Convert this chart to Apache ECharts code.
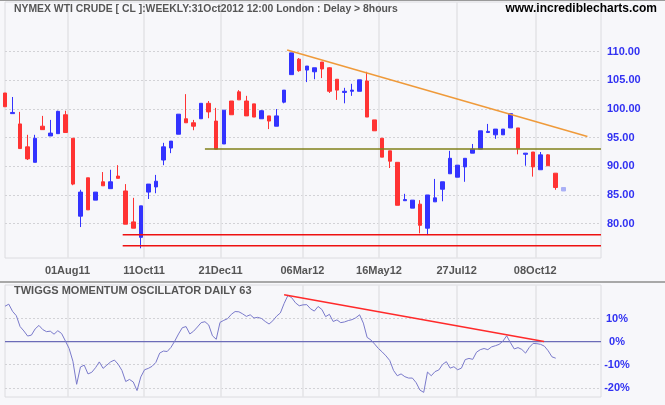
<!DOCTYPE html>
<html><head><meta charset="utf-8">
<script src="https://cdn.jsdelivr.net/npm/echarts@6/dist/echarts.min.js"></script>
<style>html,body{margin:0;padding:0;background:#f7f7fa;} #c{width:665px;height:405px;}</style>
</head><body><div id="c"></div>
<script>
// ---- weekly candles (NYMEX WTI crude, weekly bars) ----
const firstWeek = '2011-06-04';   // date of the first weekly bar
const weekOpen = [102.8,99.2,97.4,93.4,90.7,97.0,95.3,95.7,99.0,94.9,
 81.3,88.0,84.1,87.3,86.1,88.3,85.7,80.3,77.6,85.5,
 86.4,91.1,93.2,95.6,98.3,97.6,98.3,101.0,97.9,93.9,
 101.4,103.0,101.4,100.9,98.3,98.8,97.0,101.2,106.0,108.7,
 106.8,106.5,108.2,107.2,105.2,102.9,103.1,103.1,104.9,98.1,
 94.9,92.7,90.7,84.0,82.7,83.4,79.2,83.8,86.0,88.7,
 88.1,89.9,92.3,93.0,95.9,95.5,95.5,96.7,96.7,92.1,
 92.5,89.4,92.0,88.8,85.7];
const weekClose = [100.4,99.4,93.1,91.3,94.9,96.4,95.8,99.6,95.9,86.9,
 85.5,82.4,85.5,86.6,87.3,87.9,79.9,79.2,83.1,86.9,
 87.4,93.4,94.4,99.1,97.6,97.0,101.0,99.5,93.0,99.8,
 99.0,101.6,98.8,98.6,99.7,97.9,98.8,103.3,109.8,106.7,
 107.5,107.2,107.0,103.1,103.3,103.1,103.3,105.1,98.6,96.2,
 91.6,90.9,83.2,84.2,84.1,79.7,85.0,84.5,87.3,91.4,
 90.2,91.4,93.0,96.2,96.1,96.5,96.5,99.2,93.1,92.3,
 89.9,92.0,90.1,86.3,86.3];
const weekLow = [100.4,99.2,93.1,91.1,90.7,96.4,95.3,95.7,95.9,86.7,
 79.4,82.4,84.1,86.6,86.1,87.9,79.9,79.2,75.7,84.3,
 85.3,90.2,92.3,95.6,97.6,96.3,98.3,98.4,93.0,93.9,
 99.0,101.6,98.8,98.6,98.3,96.5,97.0,101.0,106.0,106.5,
 104.7,105.2,105.4,102.8,101.6,101.0,102.3,103.1,98.6,96.2,
 91.6,89.7,83.2,84.0,82.7,78.3,78.0,83.8,83.9,88.7,
 88.1,87.3,92.3,93.0,95.9,94.8,95.5,96.7,92.1,90.1,
 88.2,89.4,90.1,85.9,85.7];
const weekHigh = [102.8,102.1,99.5,95.5,95.5,98.8,98.1,99.7,99.7,94.9,
 85.9,88.0,85.5,89.0,89.4,90.2,86.9,84.5,83.1,86.9,
 88.5,94.1,94.4,99.1,102.6,98.1,101.0,101.4,100.2,99.8,
 101.4,103.3,102.3,100.9,99.8,98.8,100.0,103.3,109.8,108.9,
 107.5,107.2,108.2,107.3,105.2,103.7,104.4,105.1,106.5,98.1,
 94.9,92.7,90.7,85.2,84.1,84.1,85.0,87.8,87.3,92.7,
 90.2,91.4,93.9,96.2,97.4,96.5,96.5,99.2,96.7,92.3,
 92.5,92.5,92.1,88.8,86.3];

// ---- axis ticks ----
const xTickDates = ['2011-08-01','2011-10-11','2011-12-21','2012-03-06','2012-05-16','2012-07-27','2012-10-08'];
const xTickLabels = ['01Aug11','11Oct11','21Dec11','06Mar12','16May12','27Jul12','08Oct12'];
const priceTicks = [80,85,90,95,100,105,110];
const oscTicks = [-20,-10,0,10];

// ---- Twiggs momentum oscillator, sampled every half week from the first bar (%) ----
const oscStepWeeks = 0.5;
const oscValues = [15.3,16.2,13.1,11.2,6.5,4.6,2.4,2.8,5.5,7.0,
 5.2,4.3,4.5,3.2,4.7,3.5,0.3,-3.0,-8.5,-18.5,
 -11.0,-10.2,-14.0,-13.3,-11.3,-8.8,-11.6,-10.2,-8.8,-8.0,
 -9.8,-12.5,-17.3,-16.4,-17.5,-21.2,-15.3,-12.2,-11.6,-10.7,
 -9.0,-5.0,-4.1,-4.3,-2.5,0.2,3.3,6.0,6.5,3.3,
 4.5,6.3,8.2,8.6,7.2,2.5,1.0,8.3,9.2,9.9,
 11.8,13.0,12.9,12.0,10.9,11.6,10.2,10.5,10.0,8.7,
 7.6,9.0,11.0,12.4,16.5,20.0,19.0,16.8,15.5,15.9,
 16.0,14.2,13.2,15.2,13.9,10.8,11.8,8.7,9.4,8.2,
 8.5,9.1,9.5,10.3,11.6,8.0,1.8,0.7,-1.1,-3.0,
 -4.5,-6.2,-8.2,-12.5,-14.8,-14.0,-15.2,-15.8,-15.8,-17.8,
 -21.0,-22.0,-13.2,-14.8,-13.0,-12.3,-9.9,-8.7,-11.5,-10.9,
 -12.2,-11.5,-7.8,-7.3,-7.7,-4.6,-3.5,-3.0,-3.5,-2.3,
 -1.8,-1.2,0.2,2.5,-0.5,-3.2,-2.6,-3.4,-5.0,-2.5,
 -0.8,-0.9,-1.2,-2.0,-4.0,-6.6,-7.2];

// ---- drawn trend / support lines, [weeks from first bar, value] ----
const resistanceLine = [[37.4,110.3],[77.2,95.2]];
const supportLine93 = [[26.5,93.04],[79,93.04]];
const supportLine78 = [[15.6,78.05],[79,78.05]];
const supportLine76 = [[15.6,76.14],[79,76.14]];
const oscTrendLine = [[37.0,20.3],[71.45,0.0]];

// ---- build ----
const DAY = 864e5, W = 7*DAY;
const t0 = Date.parse(firstWeek);
const nSlots = 80;
const cats = Array.from({length:nSlots}, (_,i) => String(i));
const xTickWeeks = xTickDates.map(d => (Date.parse(d) - t0) / W);
function xLabel(v){
  let best = 0, bd = 1e9;
  xTickWeeks.forEach((w,i)=>{ const d=Math.abs(w-v); if(d<bd){bd=d;best=i;} });
  return bd < 0.01 ? xTickLabels[best] : '';
}
const last = weekOpen.length - 1;
const candleData = weekOpen.map((o,i) => {
  const v = [o, weekClose[i], weekLow[i], weekHigh[i]];
  if (i === last) return {value:v, itemStyle:{color:'#aab0f6', borderColor:'#aab0f6', color0:'#aab0f6', borderColor0:'#aab0f6'}};
  return v;
});
const oscData = oscValues.map((v,i) => [i*oscStepWeeks, v]);

const FONT = 'Liberation Sans, Arial, sans-serif';
const gridLineX = {show:true, lineStyle:{color:'#e3e3e6', width:1.5, type:'solid'}};
const chart = echarts.init(document.getElementById('c'), null, {renderer:'canvas', width:665, height:405});
chart.setOption({
  animation:false,
  backgroundColor:'#f7f7fa',
  title:[
    {text:'NYMEX WTI CRUDE [ CL ]:WEEKLY:31Oct2012 12:00 London : Delay > 8hours', left:14, top:4, padding:0,
      textStyle:{fontSize:10.4, fontWeight:'bold', color:'#555555', fontFamily:FONT}},
    {text:'www.incrediblecharts.com', right:8, top:3, padding:0,
      textStyle:{fontSize:12, fontWeight:'bold', color:'#000000', fontFamily:FONT}},
    {text:'TWIGGS MOMENTUM OSCILLATOR DAILY 63', left:14, top:285, padding:0,
      textStyle:{fontSize:11, fontWeight:'bold', color:'#555555', fontFamily:FONT}}
  ],
  graphic:[
    {type:'line', shape:{x1:0,y1:0.5,x2:665,y2:0.5}, style:{stroke:'#9a9a9a', lineWidth:1}, silent:true},
    {type:'line', shape:{x1:0,y1:282,x2:665,y2:282}, style:{stroke:'#a8a8a8', lineWidth:2}, silent:true}
  ],
  grid:[
    {left:5, top:2, width:596, height:256, outerBoundsMode:'none', containLabel:false, show:true, borderColor:'#dcdce0', borderWidth:1, backgroundColor:'transparent'},
    {left:5, top:285, width:596, height:112, outerBoundsMode:'none', containLabel:false, show:true, borderColor:'#dcdce0', borderWidth:1, backgroundColor:'transparent'}
  ],
  xAxis:[
    {type:'category', gridIndex:0, data:cats, boundaryGap:false, show:false, position:'top'},
    {type:'value', gridIndex:0, min:0, max:nSlots-1, position:'bottom',
      axisLine:{show:false}, axisTick:{show:false, customValues:xTickWeeks},
      axisLabel:{customValues:xTickWeeks, formatter:xLabel, color:'#555555', fontWeight:'bold', fontSize:11, fontFamily:FONT, margin:7},
      splitLine:gridLineX},
    {type:'value', gridIndex:1, min:0, max:nSlots-1, position:'bottom',
      axisLine:{show:false}, axisTick:{show:false, customValues:xTickWeeks},
      axisLabel:{show:false, customValues:xTickWeeks}, splitLine:gridLineX}
  ],
  yAxis:[
    {type:'value', gridIndex:0, position:'right', min:74.0, max:118.68,
      axisLine:{show:false}, axisTick:{show:false, customValues:priceTicks},
      axisLabel:{customValues:priceTicks, formatter:v=>v.toFixed(2), color:'#3131f2', fontWeight:'bold', fontSize:11, fontFamily:FONT, align:'left', margin:6},
      splitLine:{show:true, lineStyle:{color:'#d2d2d6', type:[2,2], width:1}}},
    {type:'value', gridIndex:1, position:'right', min:-24.0, max:24.5,
      axisLine:{show:false}, axisTick:{show:false, customValues:oscTicks},
      axisLabel:{customValues:oscTicks, formatter:v=>v+'%', color:'#3131f2', fontWeight:'bold', fontSize:11, fontFamily:FONT, align:'center', margin:16},
      splitLine:{show:true, lineStyle:{color:'#d2d2d6', type:[2,2], width:1}}}
  ],
  series:[
    {type:'candlestick', xAxisIndex:0, yAxisIndex:0, data:candleData, barWidth:4,
      itemStyle:{color:'#3333ff', color0:'#ff3333', borderColor:'#3333ff', borderColor0:'#ff3333', borderWidth:1}},
    {type:'line', xAxisIndex:1, yAxisIndex:0, data:supportLine93, symbol:'none', lineStyle:{color:'#80801a', width:1.5}},
    {type:'line', xAxisIndex:1, yAxisIndex:0, data:supportLine78, symbol:'none', lineStyle:{color:'#ee1111', width:1.5}},
    {type:'line', xAxisIndex:1, yAxisIndex:0, data:supportLine76, symbol:'none', lineStyle:{color:'#ee1111', width:1.5}},
    {type:'line', xAxisIndex:1, yAxisIndex:0, data:resistanceLine, symbol:'none', lineStyle:{color:'#ef9a3a', width:1.5}},
    {type:'line', xAxisIndex:2, yAxisIndex:1, data:[[0,0],[nSlots-1,0]], symbol:'none', lineStyle:{color:'#6c6cb8', width:1.2}},
    {type:'line', xAxisIndex:2, yAxisIndex:1, data:oscData, symbol:'none', lineStyle:{color:'#7a7acb', width:1}},
    {type:'line', xAxisIndex:2, yAxisIndex:1, data:oscTrendLine, symbol:'none', lineStyle:{color:'#ff2a2a', width:1.5}}
  ]
});
</script></body></html>
